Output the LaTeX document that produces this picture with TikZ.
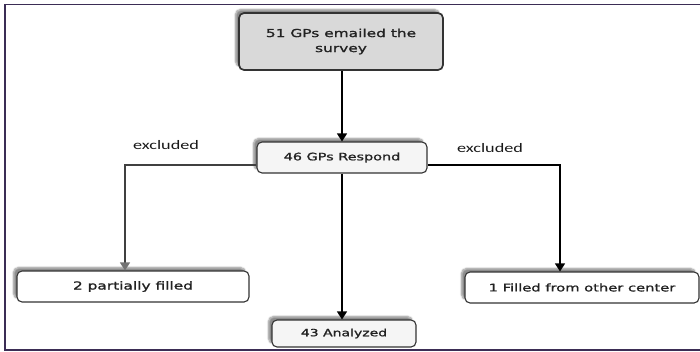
\documentclass[tikz,border=0pt]{standalone}
\usepackage{fontspec}
\usetikzlibrary{arrows.meta,shadows.blur,calc}
\newfontfamily\boxfont[FakeStretch=1.4,FakeBold=1.3]{DejaVu Sans}
\newfontfamily\lblfont[FakeStretch=1.4]{Carlito}
\definecolor{framec}{HTML}{3B2D55}
\definecolor{txtc}{HTML}{222222}
\definecolor{edgec}{HTML}{333333}
\tikzset{
  box/.style={draw=edgec, line width=1.1pt, rounded corners=5pt, inner sep=0pt,
    text=txtc, font=\boxfont\fontsize{10.5}{15}\selectfont, align=center,
    blur shadow={shadow xshift=-3.5pt, shadow yshift=3.5pt, shadow blur steps=6, shadow opacity=45}},
  topbox/.style={box, fill=black!15, line width=1.7pt, font=\boxfont\fontsize{11}{15}\selectfont},
  lightbox/.style={box, fill=black!4},
  whitebox/.style={box, fill=white},
  arr/.style={draw=black, line width=1.2pt, -{Triangle[length=8pt,width=10pt]}},
  garr/.style={draw=black!75, line width=1.2pt, -{Triangle[length=8pt,width=10pt,color=black!55,fill=black!55]}},
  lbl/.style={font=\lblfont\fontsize{13}{15}\selectfont, text=black!90, inner sep=0pt},
}
\begin{document}
\begin{tikzpicture}[x=1pt,y=-1pt]
\useasboundingbox (0,0) rectangle (700,351);
% frame
\draw[framec, line width=1.5pt] (700,4.5) -- (5,4.5) -- (5,350) -- (700,350);
% nodes
\node[topbox, minimum width=204pt, minimum height=57pt] (top) at (341,41.5) {51 GPs emailed the\\survey};
\node[lightbox, minimum width=170pt, minimum height=31pt, font=\boxfont\fontsize{10.3}{15}\selectfont] (resp) at (342,157.5) {46 GPs Respond};
\node[whitebox, minimum width=232pt, minimum height=31pt, font=\boxfont\fontsize{11}{15}\selectfont] (part) at (133,286.5) {2 partially filled};
\node[whitebox, minimum width=234pt, minimum height=31pt, font=\boxfont\fontsize{10.5}{15}\selectfont] (other) at (582,287.5) {1 Filled from other center};
\node[lightbox, minimum width=144pt, minimum height=27pt, font=\boxfont\fontsize{10}{15}\selectfont] (ana) at (344,333.5) {43 Analyzed};
% labels
\node[lbl] (exl) at (166,145) {excluded};
\node[lbl] (exr) at (490,148) {excluded};
% connectors
\coordinate (jl) at (125,165);
\coordinate (jr) at (560,165);
\draw[arr] (top.south -| resp.north) -- (resp.north);
\draw[garr] (resp.west |- jl) -- (jl) -- (jl |- part.north);
\draw[arr] (resp.east |- jr) -- (jr) -- (jr |- other.north);
\draw[arr] (resp.south) -- (resp.south |- ana.north);
\end{tikzpicture}
\end{document}
